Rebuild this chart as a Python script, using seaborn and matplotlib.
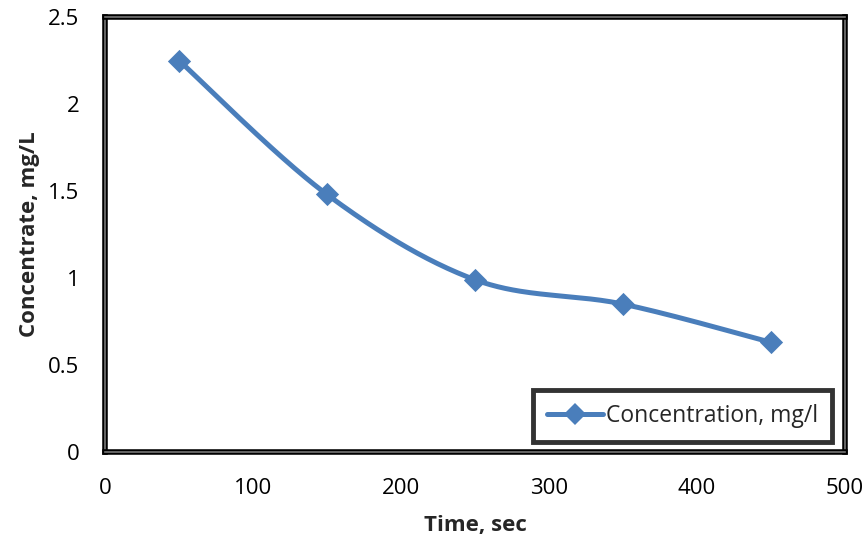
import numpy as np
import pandas as pd
import matplotlib
matplotlib.use("Agg")
import matplotlib.pyplot as plt
from matplotlib.lines import Line2D
import matplotlib.patheffects as pe
import seaborn as sns

# Measured concentration over time
time_sec = [50, 150, 250, 350, 450]
concentration = [2.25, 1.48, 0.99, 0.85, 0.63]
series_name = "Concentration, mg/l"
x_ticks = [0, 100, 200, 300, 400, 500]
y_ticks = [0, 0.5, 1, 1.5, 2, 2.5]
y_tick_labels = ["0", "0.5", "1", "1.5", "2", "2.5"]

sns.set_theme(style="white")
plt.rcParams["font.family"] = ["Open Sans", "DejaVu Sans"]

BLUE = "#4a7ebb"


def smooth_curve(xs, ys, steps=60):
    """Catmull-Rom style cubic Bezier smoothing through the data points."""
    xs = np.asarray(xs, float)
    ys = np.asarray(ys, float)
    px = np.concatenate([[xs[0]], xs, [xs[-1]]])
    py = np.concatenate([[ys[0]], ys, [ys[-1]]])
    out_x, out_y = [], []
    t = np.linspace(0, 1, steps)
    for i in range(1, len(px) - 2):
        p0 = np.array([px[i], py[i]])
        p3 = np.array([px[i + 1], py[i + 1]])
        c1 = p0 + (np.array([px[i + 1], py[i + 1]]) - np.array([px[i - 1], py[i - 1]])) / 6
        c2 = p3 - (np.array([px[i + 2], py[i + 2]]) - np.array([px[i], py[i]])) / 6
        b = ((1 - t) ** 3)[:, None] * p0 + (3 * (1 - t) ** 2 * t)[:, None] * c1 \
            + (3 * (1 - t) * t ** 2)[:, None] * c2 + (t ** 3)[:, None] * p3
        out_x.extend(b[:, 0])
        out_y.extend(b[:, 1])
    return np.array(out_x), np.array(out_y)


sx, sy = smooth_curve(time_sec, concentration)
curve = pd.DataFrame({"t": sx, "c": sy})
points = pd.DataFrame({"t": time_sec, "c": concentration})

fig = plt.figure(figsize=(8.67, 5.44), dpi=100)
ax = fig.add_axes([105 / 867, 1 - 452 / 544, 740 / 867, 435 / 544])

sns.lineplot(data=curve, x="t", y="c", sort=False, estimator=None,
             color=BLUE, linewidth=3.6, ax=ax, legend=False)
sns.scatterplot(data=points, x="t", y="c", marker="D", s=140,
                color=BLUE, edgecolor=BLUE, linewidth=0, ax=ax, zorder=3, legend=False)

ax.set_xlim(0, 500)
ax.set_ylim(0, 2.5)
ax.set_xticks(x_ticks)
ax.set_xticklabels([str(v) for v in x_ticks])
ax.set_yticks(y_ticks)
ax.set_yticklabels(y_tick_labels)
ax.tick_params(axis="both", length=0, labelsize=16, colors="black")
ax.tick_params(axis="y", pad=18.5)
ax.tick_params(axis="x", pad=19)

ax.set_xlabel("Time, sec", fontsize=16, fontweight="bold", labelpad=11)
ax.set_ylabel("Concentrate, mg/L", fontsize=16, fontweight="bold", labelpad=6)

for side in ax.spines.values():
    side.set_color("black")
    side.set_linewidth(3)
    side.set_path_effects([pe.Stroke(linewidth=4, foreground="black"),
                           pe.Stroke(linewidth=1.2, foreground="#777777")])
ax.grid(False)

handle = Line2D([], [], color=BLUE, linewidth=3.6, marker="D", markersize=11,
                markeredgewidth=0)
leg = ax.legend([handle], [series_name], loc="lower right",
                bbox_to_anchor=(0.982, 0.023), fontsize=16.5, frameon=True,
                fancybox=False, handlelength=2.45, handletextpad=0.12,
                borderpad=0.6, borderaxespad=0)
leg.get_frame().set_edgecolor("black")
leg.get_frame().set_linewidth(3.5)

fig.savefig("out.png", dpi=100, facecolor="white")
